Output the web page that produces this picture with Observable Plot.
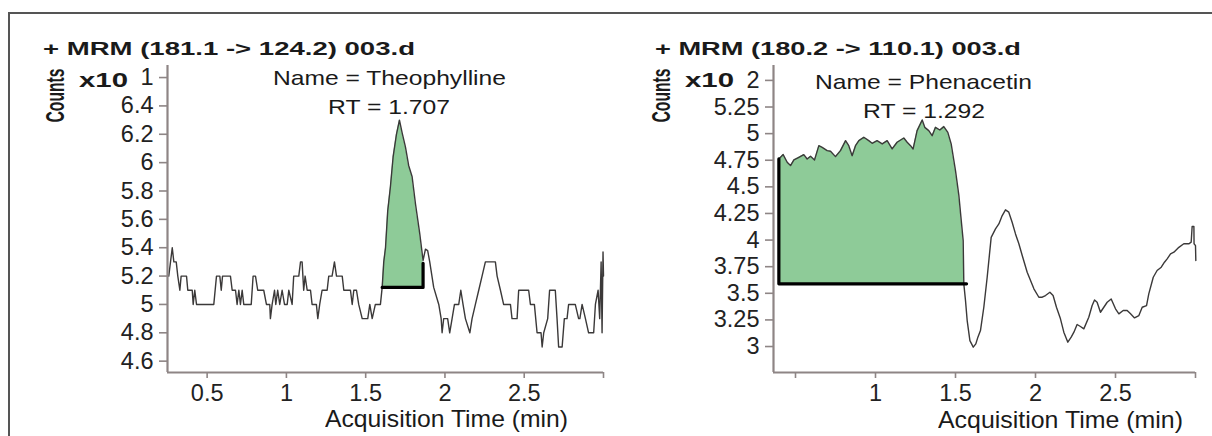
<!DOCTYPE html>
<html><head><meta charset="utf-8">
<script src="https://cdn.jsdelivr.net/npm/d3@7"></script>
<script src="https://cdn.jsdelivr.net/npm/@observablehq/plot@0.6"></script>
<style>
html,body{margin:0;padding:0;background:#fff}
#root{position:relative;width:1212px;height:436px;overflow:hidden;background:#fff;font-family:"Liberation Sans",Arial,sans-serif;color:#222}
.panel{position:absolute;top:0}
.lbl{position:absolute;white-space:nowrap;line-height:1}
.rule{position:absolute;background:#555}
</style></head><body><div id="root"></div><script>
// ---------- data ----------
const leftTitle = "+ MRM (181.1 -> 124.2) 003.d";
const rightTitle = "+ MRM (180.2 -> 110.1) 003.d";
const leftName = "Name = Theophylline", leftRT = "RT = 1.707";
const rightName = "Name = Phenacetin", rightRT = "RT = 1.292";
const yLabel = "Counts", expLabel = "x10", xLabel = "Acquisition Time (min)";

const leftTime = [0.258,0.269,0.280,0.290,0.305,0.315,0.328,0.336,0.370,0.378,0.406,0.412,0.422,0.433,0.542,0.559,0.580,0.589,0.597,0.647,0.658,0.679,0.689,0.700,0.710,0.721,0.731,0.778,0.790,0.805,0.819,0.857,0.874,0.895,0.899,0.910,0.925,0.933,0.945,0.958,0.973,0.988,1.005,1.015,1.036,1.046,1.078,1.089,1.099,1.109,1.118,1.131,1.152,1.162,1.189,1.198,1.210,1.225,1.257,1.267,1.288,1.303,1.316,1.352,1.362,1.404,1.415,1.425,1.442,1.456,1.478,1.513,1.526,1.541,1.561,1.593,1.604,
1.614,1.625,1.639,1.656,1.673,1.694,1.713,1.730,1.751,1.771,1.793,1.814,1.841,1.862,1.877,1.891,1.904,1.929,1.961,1.976,1.982,1.992,2.017,2.030,2.045,2.060,2.087,2.100,2.114,2.129,2.157,2.171,2.192,2.213,2.234,2.255,2.318,2.329,2.350,2.370,2.413,2.423,2.455,2.465,2.528,2.539,2.564,2.581,2.606,2.613,2.623,2.648,2.660,2.696,2.707,2.717,2.739,2.753,2.770,2.780,2.822,2.843,2.851,2.865,2.886,2.906,2.938,2.949,2.966,2.976,2.985,2.991,2.997,3.000];
const leftCounts = [5.2,5.3,5.4,5.3,5.3,5.2,5.1,5.2,5.2,5.1,5.1,5.0,5.1,5.0,5.0,5.2,5.2,5.1,5.2,5.2,5.1,5.1,5.0,5.1,5.0,5.1,5.0,5.0,5.2,5.2,5.1,5.1,5.0,5.0,4.9,5.0,5.1,5.0,5.1,5.0,5.1,5.0,5.0,5.1,5.0,5.2,5.2,5.3,5.3,5.1,5.2,5.1,5.1,5.0,5.0,4.9,5.0,5.1,5.1,5.2,5.2,5.3,5.2,5.2,5.1,5.1,5.0,5.1,5.1,5.0,4.9,4.9,5.0,4.9,5.0,5.0,5.12,
5.3,5.4,5.66,5.83,6.04,6.2,6.3,6.21,6.11,5.98,5.9,5.71,5.5,5.31,5.39,5.38,5.3,5.12,5.0,4.9,4.8,4.9,4.9,4.8,4.9,5.0,5.0,5.1,5.0,4.9,4.8,4.9,5.0,5.1,5.2,5.3,5.3,5.2,5.1,5.0,5.0,4.9,4.9,5.1,5.1,5.0,5.0,4.8,4.8,4.7,4.8,4.9,5.1,5.1,4.9,4.7,4.7,4.9,4.9,5.0,5.0,4.9,4.9,5.0,4.9,4.8,4.8,5.0,5.1,4.9,5.3,4.8,5.37,5.2];
const leftPeakStart = 1.604, leftPeakEnd = 1.862, leftBase = 5.12, leftBaseEndTop = 5.29;
const leftYTicks = [4.6,4.8,5,5.2,5.4,5.6,5.8,6,6.2,6.4,6.6];
const leftYTickLabels = ["4.6","4.8","5","5.2","5.4","5.6","5.8","6","6.2","6.4","1"];
const leftXTicks = [0.5,1,1.5,2,2.5,3];
const leftXTickLabels = ["0.5","1","1.5","2","2.5",""];

const rightTime = [0.396,0.423,0.448,0.469,0.490,0.521,0.552,0.573,0.594,0.619,0.646,0.667,0.698,0.719,0.750,0.781,0.813,0.833,0.854,0.875,0.896,0.927,0.958,0.979,1.010,1.042,1.073,1.104,1.135,1.177,1.198,1.219,1.235,1.260,1.292,1.308,1.333,1.354,1.375,1.402,1.427,1.452,1.473,1.500,1.521,1.536,1.548,1.552,
1.5625,1.573,1.590,1.611,1.627,1.640,1.656,1.677,1.698,1.723,1.750,1.771,1.792,1.8125,1.833,1.854,1.875,1.896,1.917,1.948,1.969,1.990,2.021,2.042,2.0625,2.090,2.110,2.131,2.156,2.177,2.202,2.223,2.240,2.260,2.281,2.302,2.333,2.354,2.369,2.385,2.406,2.427,2.448,2.473,2.500,2.521,2.548,2.573,2.594,2.619,2.646,2.667,2.694,2.708,2.736,2.760,2.786,2.806,2.823,2.844,2.865,2.896,2.927,2.958,2.973,2.979,2.990,2.991,3.000,3.002];
const rightCounts = [4.762,4.803,4.731,4.700,4.753,4.778,4.803,4.762,4.787,4.753,4.887,4.871,4.840,4.834,4.784,4.840,4.934,4.887,4.793,4.887,4.934,4.966,4.934,4.909,4.934,4.903,4.934,4.856,4.919,4.959,4.919,4.887,4.856,5.028,5.128,5.059,5.028,4.981,5.059,5.034,5.066,5.012,4.903,4.653,4.42,4.183,3.995,3.589,
3.432,3.244,3.056,2.994,3.025,3.088,3.150,3.369,3.651,4.026,4.105,4.152,4.230,4.284,4.262,4.168,4.058,3.965,3.855,3.698,3.620,3.542,3.463,3.463,3.479,3.510,3.479,3.369,3.260,3.135,3.041,3.088,3.135,3.207,3.188,3.166,3.275,3.385,3.438,3.416,3.322,3.369,3.416,3.447,3.354,3.307,3.338,3.338,3.307,3.269,3.291,3.369,3.385,3.495,3.651,3.714,3.745,3.792,3.823,3.870,3.886,3.932,3.965,3.965,3.980,4.127,4.127,3.965,3.948,3.808];
const rightPeakStart = 0.396, rightPeakEnd = 1.552, rightBase = 3.589, rightBaseEnd = 1.569;
const rightYTicks = [3,3.25,3.5,3.75,4,4.25,4.5,4.75,5,5.25,5.5];
const rightYTickLabels = ["3","3.25","3.5","3.75","4","4.25","4.5","4.75","5","5.25","2"];
const rightXTicks = [0.5,1,1.5,2,2.5,3];
const rightXTickLabels = ["","1","1.5","2","2.5",""];

// ---------- build ----------
const root = document.getElementById("root");
const FONT = '"Liberation Sans", Arial, sans-serif';
const GREEN = "#8ecb98", AXIS = "#8e8585", TRACE = "#3b3939";

function panel(o) {
  const data = o.time.map((t, i) => ({t, v: o.counts[i]}));
  const peak = data.filter(d => d.t >= o.peakStart - 1e-9 && d.t <= o.peakEnd + 1e-9);
  const base = [{t: o.peakStart, v: o.baseLeftTop}, {t: o.peakStart, v: o.base}, {t: o.baseEnd, v: o.base}, {t: o.baseEnd, v: o.baseRightTop}];
  const fmtY = d => o.yLabels[o.yTicks.indexOf(d)];
  const fmtX = d => o.xLabels[o.xTicks.indexOf(d)];
  return Plot.plot({
    width: 606, height: 436,
    marginLeft: 167, marginRight: o.marginRight, marginTop: 65, marginBottom: 64,
    x: {domain: o.xDomain},
    y: {domain: o.yDomain},
    style: {fontFamily: FONT, fontSize: "23.5px", color: "#222", background: "transparent", overflow: "visible"},
    marks: [
      Plot.areaY(peak, {x: "t", y1: o.base, y2: "v", fill: GREEN}),
      Plot.line(data, {x: "t", y: "v", stroke: TRACE, strokeWidth: 1.4}),
      Plot.line(base, {x: "t", y: "v", stroke: "#000", strokeWidth: 3.2}),
      Plot.ruleX([o.xDomain[0]], {stroke: AXIS, strokeWidth: 2.2}),
      Plot.ruleY([o.yDomain[0]], {stroke: AXIS, strokeWidth: 2.2}),
      Plot.axisY(o.yTicks, {tickSize: 8, tickPadding: 6, stroke: AXIS, strokeWidth: 1.6, fill: "#222", tickFormat: fmtY, label: null}),
      Plot.axisX(o.xTicks, {tickSize: 6, tickPadding: 6, stroke: AXIS, strokeWidth: 1.6, fill: "#222", tickFormat: fmtX, label: null})
    ]
  });
}

function mount(node, left) {
  const d = document.createElement("div");
  d.className = "panel"; d.style.left = left + "px";
  d.appendChild(node); root.appendChild(d);
}

mount(panel({time: leftTime, counts: leftCounts, peakStart: leftPeakStart, peakEnd: leftPeakEnd,
  base: leftBase, baseEnd: leftPeakEnd, baseLeftTop: leftBase, baseRightTop: leftBaseEndTop,
  xDomain: [0.25, 3.0], yDomain: [4.52, 6.685], marginRight: 3,
  yTicks: leftYTicks, yLabels: leftYTickLabels, xTicks: leftXTicks, xLabels: leftXTickLabels}), 0);

mount(panel({time: rightTime, counts: rightCounts, peakStart: rightPeakStart, peakEnd: rightPeakEnd,
  base: rightBase, baseEnd: rightBaseEnd, baseLeftTop: rightCounts[0], baseRightTop: rightBase,
  xDomain: [0.3625, 3.0], yDomain: [2.756, 5.64], marginRight: 17,
  yTicks: rightYTicks, yLabels: rightYTickLabels, xTicks: rightXTicks, xLabels: rightXTickLabels}), 606);

// frame lines
function rule(l, t, w, h) {
  const r = document.createElement("div"); r.className = "rule";
  Object.assign(r.style, {left: l + "px", top: t + "px", width: w + "px", height: h + "px"});
  root.appendChild(r);
}
rule(8, 12, 1204, 1.6);
rule(8, 12, 1.6, 424);

// text
function addText(str, o) {
  const s = document.createElement("span");
  s.className = "lbl"; s.textContent = str;
  s.style.fontSize = o.size + "px";
  s.style.fontWeight = o.bold ? "bold" : "normal";
  s.style.color = "#1a1a1a";
  root.appendChild(s);
  const w = s.getBoundingClientRect().width;
  const k = o.width ? o.width / w : 1;
  if (o.rotate) {
    s.style.left = (o.cx - w / 2) + "px";
    s.style.top = (o.cy - o.size / 2) + "px";
    s.style.transformOrigin = "50% 50%";
    s.style.transform = `rotate(-90deg) scaleX(${k})`;
  } else {
    const left = o.cx !== undefined ? o.cx - w * k / 2 : o.x;
    s.style.left = left + "px";
    s.style.top = (o.cy - 0.49 * o.size) + "px";
    s.style.transformOrigin = "0 0";
    s.style.transform = `scaleX(${k})`;
  }
}
const off = 606;
addText(leftTitle, {x: 43, cy: 49, size: 18, bold: true, width: 372});
addText(rightTitle, {x: 43 + off + 6, cy: 49, size: 18, bold: true, width: 366});
for (const dx of [0, off]) {
  addText(yLabel, {cx: 55 + dx, cy: 95, size: 25, bold: true, width: 54, rotate: true});
  addText(expLabel, {x: 79 + dx, cy: 79.5, size: 21, bold: true, width: 49});
}
addText(leftName, {cx: 389.5, cy: 77.5, size: 21, width: 233});
addText(leftRT, {cx: 389, cy: 106.7, size: 21, width: 122});
addText(rightName, {cx: 923.5, cy: 81, size: 21, width: 217});
addText(rightRT, {cx: 924, cy: 110.5, size: 21, width: 122});
addText(xLabel, {cx: 446.5, cy: 419.5, size: 24.5, width: 243});
addText(xLabel, {cx: 1060.8, cy: 420.5, size: 24.5, width: 245});
</script></body></html>
